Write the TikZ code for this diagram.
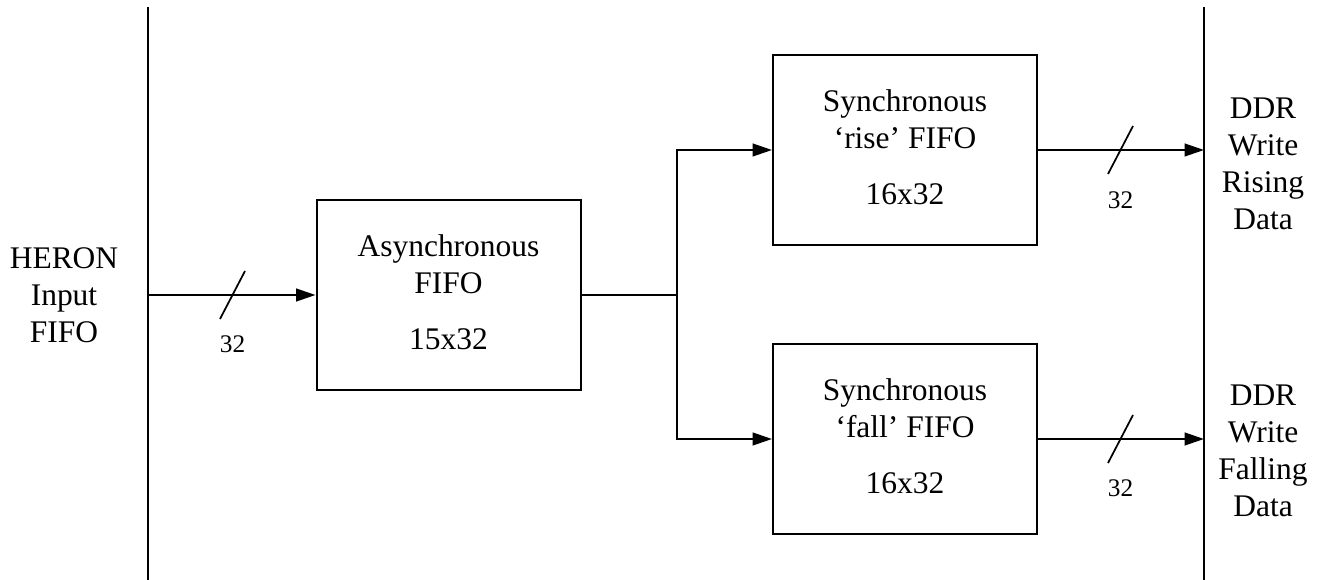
\documentclass[tikz,border=0pt]{standalone}
\usepackage{fontspec}
\setmainfont{Liberation Serif}
\usetikzlibrary{arrows.meta}
\newcommand{\lowpad}{\rule[-4.5pt]{0pt}{0pt}}
\begin{document}
\begin{tikzpicture}[x=0.75pt,y=-0.75pt,
  ln/.style={line width=1.5pt},
  arr/.style={ln,-{Triangle[length=14.5pt,width=9.5pt]}},
  blk/.style={draw,ln,inner sep=0pt,minimum width=198pt,minimum height=143pt,align=center,
    font=\fontsize{23.6}{27.75}\selectfont},
  side/.style={align=center,inner sep=0pt,font=\fontsize{23.6}{27.75}\selectfont},
  bus/.style={inner sep=0pt,font=\fontsize{19}{22}\selectfont},
  slash/.style={line width=1.3pt}]
\useasboundingbox (0,0) rectangle (1320,580);

% boundary lines
\coordinate (Ltop) at (148,7);
\coordinate (Lbot) at (148,580);
\coordinate (Rtop) at (1204,7);
\coordinate (Rbot) at (1204,580);
\draw[ln] (Ltop) -- (Lbot);
\draw[ln] (Rtop) -- (Rbot);

% side texts
\node[side] (heron) at (64,295) {HERON\\Input\\FIFO};
\node[side] (rising) at (1263,163.5) {DDR\\Write\\Rising\\Data};
\node[side] (falling) at (1263,451) {DDR\\Write\\Falling\\Data};

% blocks
\node[blk] (async) at (448.5,295) {Asynchronous\\FIFO\\[14pt]15x32\lowpad};
\node[blk] (rise) at (905,150) {Synchronous\\‘rise’ FIFO\\[14pt]16x32\lowpad};
\node[blk] (fall) at (905,439) {Synchronous\\‘fall’ FIFO\\[14pt]16x32\lowpad};

% connectors
\coordinate (Lin) at (148,295);
\coordinate (Rrise) at (1204,150);
\coordinate (Rfall) at (1204,439);
\coordinate (br) at (677,295);
\draw[arr] (Lin) -- (async.west);
\draw[ln] (async.east) -- (br);
\draw[arr] (br) |- (rise.west);
\draw[arr] (br) |- (fall.west);
\draw[arr] (rise.east) -- (Rrise);
\draw[arr] (fall.east) -- (Rfall);

% bus slashes
\coordinate (s1) at (232.5,295);
\coordinate (s2) at (1120.5,150);
\coordinate (s3) at (1120.5,439);
\foreach \s in {s1,s2,s3}
  \draw[slash] ([shift={(-12.5,24)}]\s) -- ([shift={(12.5,-24)}]\s);
\node[bus] (b1) at (232.5,344) {32};
\node[bus] (b2) at (1120.5,200) {32};
\node[bus] (b3) at (1120.5,488) {32};
\end{tikzpicture}
\end{document}
